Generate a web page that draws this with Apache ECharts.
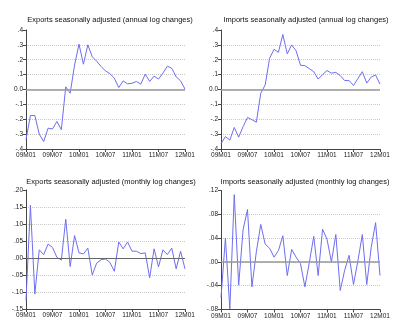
<!DOCTYPE html>
<html><head><meta charset="utf-8">
<script src="https://cdn.jsdelivr.net/npm/echarts@6/dist/echarts.min.js"></script>
<style>html,body{margin:0;padding:0;background:#fff}#c{width:400px;height:333px}</style>
</head><body><div id="c"></div>
<script>
var categories = ["09M01","09M02","09M03","09M04","09M05","09M06","09M07","09M08","09M09","09M10","09M11","09M12",
"10M01","10M02","10M03","10M04","10M05","10M06","10M07","10M08","10M09","10M10","10M11","10M12",
"11M01","11M02","11M03","11M04","11M05","11M06","11M07","11M08","11M09","11M10","11M11","11M12","12M01"];

var exportsAnnual = [-0.337,-0.175,-0.175,-0.30,-0.35,-0.26,-0.265,-0.215,-0.27,0.018,-0.025,0.165,
0.305,0.17,0.30,0.22,0.19,0.155,0.125,0.107,0.076,0.013,0.058,0.038,
0.042,0.054,0.036,0.103,0.054,0.09,0.07,0.11,0.157,0.143,0.085,0.058,0.003];

var importsAnnual = [-0.364,-0.317,-0.34,-0.255,-0.32,-0.25,-0.188,-0.203,-0.22,-0.025,0.03,0.21,
0.27,0.25,0.37,0.24,0.30,0.26,0.163,0.16,0.14,0.12,0.07,0.10,
0.127,0.11,0.115,0.094,0.06,0.06,0.027,0.074,0.12,0.043,0.083,0.098,0.036];

var exportsMonthly = [-0.125,0.155,-0.106,0.024,0.01,0.041,0.031,0.002,-0.006,0.114,-0.025,0.066,
0.015,0.012,0.029,-0.05,-0.015,-0.005,-0.003,-0.013,-0.039,0.047,0.027,0.047,
0.02,0.02,0.013,0.015,-0.058,0.027,-0.026,0.024,0.01,0.029,-0.032,0.02,-0.032];

var importsMonthly = [-0.060,0.040,-0.079,0.113,-0.039,0.054,0.088,-0.042,0.017,0.063,0.030,0.023,
0.008,0.019,0.044,-0.023,0.021,0.008,-0.003,-0.042,-0.001,0.043,-0.023,0.055,
0.038,0.0,0.046,-0.048,-0.014,0.011,-0.038,0.002,0.046,-0.038,0.024,0.066,-0.023];

var titles = ["Exports seasonally adjusted (annual log changes)",
              "Imports seasonally adjusted (annual log changes)",
              "Exports seasonally adjusted (monthly log changes)",
              "Imports seasonally adjusted (monthly log changes)"];

var ticksAnnual = [".4",".3",".2",".1","0.0","-.1","-.2","-.3","-.4"];
var ticksExpMonthly = [".20",".15",".10",".05",".00","-.05","-.10","-.15"];
var ticksImpMonthly = [".12",".08",".04",".00","-.04","-.08"];

var FONT = 'Liberation Sans, Arial, sans-serif';
var LINE = '#6e6ef2';

var panels = [
  {title: titles[0], data: exportsAnnual, min:-0.4, max:0.4, interval:0.1, ticks: ticksAnnual, left:26, top:30, cx:105, ty:11},
  {title: titles[1], data: importsAnnual, min:-0.4, max:0.4, interval:0.1, ticks: ticksAnnual, left:221, top:30, cx:301, ty:11},
  {title: titles[2], data: exportsMonthly, min:-0.15, max:0.20, interval:0.05, ticks: ticksExpMonthly, left:26, top:190, cx:106, ty:172.5},
  {title: titles[3], data: importsMonthly, min:-0.08, max:0.12, interval:0.04, ticks: ticksImpMonthly, left:221, top:190.5, cx:300, ty:172.5}
];

var option = {animation:false, backgroundColor:'#fff', title:[], grid:[], xAxis:[], yAxis:[], series:[]};
panels.forEach(function(p, i){
  option.title.push({text:p.title, left:p.cx, top:p.ty, textAlign:'center',
    textStyle:{fontFamily:FONT, fontSize:7.5, fontWeight:'normal', color:'#111'}});
  option.grid.push({left:p.left, top:p.top, width:159, height:119, containLabel:false});
  option.xAxis.push({type:'category', gridIndex:i, data:categories, boundaryGap:false,
    axisLine:{onZero:false, lineStyle:{color:'#444', width:1}},
    axisTick:{show:true, interval:5, length:3, lineStyle:{color:'#444'}},
    axisLabel:{interval:5, fontFamily:FONT, fontSize:6.5, color:'#222', margin:3},
    splitLine:{show:false}});
  option.yAxis.push({type:'value', gridIndex:i, min:p.min, max:p.max, interval:p.interval,
    axisLine:{show:true, lineStyle:{color:'#444', width:1}},
    axisTick:{show:true, length:3, lineStyle:{color:'#444'}},
    axisLabel:{fontFamily:FONT, fontSize:6.5, color:'#222', margin:3,
      formatter:function(v){ var k = Math.round((p.max - v)/p.interval); return p.ticks[k] || ''; }},
    splitLine:{show:true, showMaxLine:false, showMinLine:false, lineStyle:{color:'#c8c8c8', type:[1,1], width:1}}});
  option.series.push({type:'line', xAxisIndex:i, yAxisIndex:i, data:p.data, symbol:'none',
    lineStyle:{color:LINE, width:1}, z:3,
    markLine:{silent:true, symbol:'none', label:{show:false}, animation:false,
      lineStyle:{color:(i===2?'#666':'#999'), width:(i===2?1:1.5), type:'solid'}, data:[{yAxis:0}]}});
});
var chart = echarts.init(document.getElementById('c'), null, {renderer:'canvas'});
chart.setOption(option);
</script></body></html>
